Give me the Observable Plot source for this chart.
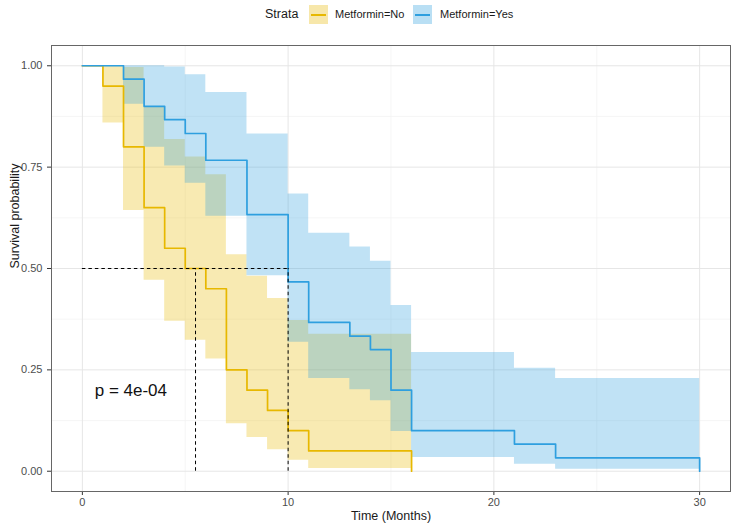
<!DOCTYPE html>
<html><head><meta charset="utf-8">
<script src="https://cdn.jsdelivr.net/npm/d3@7"></script>
<script src="https://cdn.jsdelivr.net/npm/@observablehq/plot@0.6"></script>
<style>
body{margin:0;background:#fff;font-family:"Liberation Sans",Arial,sans-serif;}
#legend{position:relative;height:30px;width:750px;}
#legend .t{position:absolute;top:7px;font-size:12.5px;color:#1a1a1a;}
#legend .l{position:absolute;top:8px;font-size:11px;color:#1a1a1a;}
#legend .k{position:absolute;top:5px;width:19px;height:19px;}
#legend .k i{position:absolute;left:2px;right:2px;top:9px;height:2px;display:block;}
</style></head><body>
<div id="legend"></div>
<div id="chart"></div>
<script>
// Strata
const strata = ["Metformin=No", "Metformin=Yes"];
const colors = ["#E7B800", "#2E9FDF"];

// Metformin=No
const timesNo = [0, 1, 2, 3, 4, 5, 6, 7, 8, 9, 10, 11, 16];
const survNo  = [1, 0.95, 0.80, 0.65, 0.55, 0.50, 0.45, 0.25, 0.20, 0.15, 0.10, 0.05, 0];
const lowerNo = [1, 0.859, 0.643, 0.471, 0.370, 0.323, 0.277, 0.117, 0.083, 0.053, 0.027, 0.007];
const upperNo = [1, 1, 0.996, 0.897, 0.818, 0.775, 0.731, 0.534, 0.481, 0.426, 0.372, 0.338];

// Metformin=Yes
const timesYes = [0, 2, 3, 4, 5, 6, 8, 10, 11, 13, 14, 15, 16, 21, 23, 30];
const survYes  = [1, 0.967, 0.900, 0.867, 0.833, 0.767, 0.633, 0.467, 0.367, 0.333, 0.300, 0.200, 0.100, 0.067, 0.033, 0];
const lowerYes = [1, 0.905, 0.799, 0.753, 0.710, 0.629, 0.482, 0.318, 0.229, 0.201, 0.174, 0.098, 0.034, 0.017, 0.005];
const upperYes = [1, 1, 1, 0.997, 0.978, 0.934, 0.832, 0.684, 0.587, 0.553, 0.518, 0.409, 0.293, 0.254, 0.229];

// Medians and annotation
const medianTimes = [5.5, 10];
const medianLevel = 0.5;
const pLabel = "p = 4e-04";
const pPos = [0.6, 0.2];

// Ticks
const xTicks = [0, 10, 20, 30];
const xMinor = [5, 15, 25];
const yTicks = [0, 0.25, 0.5, 0.75, 1];
const yMinor = [0.125, 0.375, 0.625, 0.875];

function curve(times, surv) { return times.map((t, i) => ({time: t, surv: surv[i]})); }
function band(times, lower, upper) {
  return times.map((t, i) => {
    const j = Math.min(i, lower.length - 1);
    return {time: t, lower: lower[j], upper: upper[j]};
  });
}
const lineNo = curve(timesNo, survNo), lineYes = curve(timesYes, survYes);
const bandNo = band(timesNo, lowerNo, upperNo), bandYes = band(timesYes, lowerYes, upperYes);

// legend
const lg = document.getElementById("legend");
lg.innerHTML =
  `<span class="t" style="left:265px">Strata</span>` +
  `<span class="k" style="left:309px;background:${colors[0]}55"><i style="background:${colors[0]}"></i></span>` +
  `<span class="l" style="left:335px">${strata[0]}</span>` +
  `<span class="k" style="left:413px;background:${colors[1]}55"><i style="background:${colors[1]}"></i></span>` +
  `<span class="l" style="left:440px">${strata[1]}</span>`;

const chart = Plot.plot({
  width: 750, height: 497,
  marginLeft: 51, marginRight: 20, marginTop: 15, marginBottom: 36,
  style: {fontFamily: "Liberation Sans, Arial, sans-serif", fontSize: "11px", color: "#4d4d4d", background: "white"},
  x: {domain: [-1.5, 31.5]},
  y: {domain: [-0.05, 1.05]},
  marks: [
    Plot.ruleX(xMinor, {stroke: "#f2f2f2", strokeWidth: 0.7}),
    Plot.ruleY(yMinor, {stroke: "#f2f2f2", strokeWidth: 0.7}),
    Plot.ruleX(xTicks, {stroke: "#e6e6e6", strokeWidth: 1}),
    Plot.ruleY(yTicks, {stroke: "#e6e6e6", strokeWidth: 1}),
    Plot.areaY(bandNo, {x: "time", y1: "lower", y2: "upper", curve: "step-after", fill: colors[0], fillOpacity: 0.3}),
    Plot.areaY(bandYes, {x: "time", y1: "lower", y2: "upper", curve: "step-after", fill: colors[1], fillOpacity: 0.3}),
    Plot.lineY(lineNo, {x: "time", y: "surv", curve: "step-after", stroke: colors[0], strokeWidth: 1.7}),
    Plot.lineY(lineYes, {x: "time", y: "surv", curve: "step-after", stroke: colors[1], strokeWidth: 1.7}),
    Plot.ruleY([medianLevel], {x1: 0, x2: d3.max(medianTimes), stroke: "black", strokeDasharray: "3.5,3", strokeWidth: 1}),
    Plot.ruleX(medianTimes, {y1: 0, y2: medianLevel, stroke: "black", strokeDasharray: "3.5,3", strokeWidth: 1}),
    Plot.text([pLabel], {x: pPos[0], y: pPos[1], textAnchor: "start", fontSize: 17, fill: "#111"}),
    Plot.axisX({ticks: xTicks, tickSize: 4, tickPadding: 3, label: null, stroke: "#333"}),
    Plot.axisY({ticks: yTicks, tickSize: 4, tickPadding: 5, label: null, tickFormat: d3.format(".2f"), stroke: "#333"}),
    Plot.text(["Time (Months)"], {frameAnchor: "bottom", dy: 28, fontSize: 12.5, fill: "#1a1a1a"}),
    Plot.text(["Survival probability"], {frameAnchor: "left", dx: -37, rotate: -90, fontSize: 12.5, fill: "#1a1a1a"}),
    Plot.frame({stroke: "#666", strokeWidth: 1})
  ]
});
document.getElementById("chart").appendChild(chart);
</script>
</body></html>
